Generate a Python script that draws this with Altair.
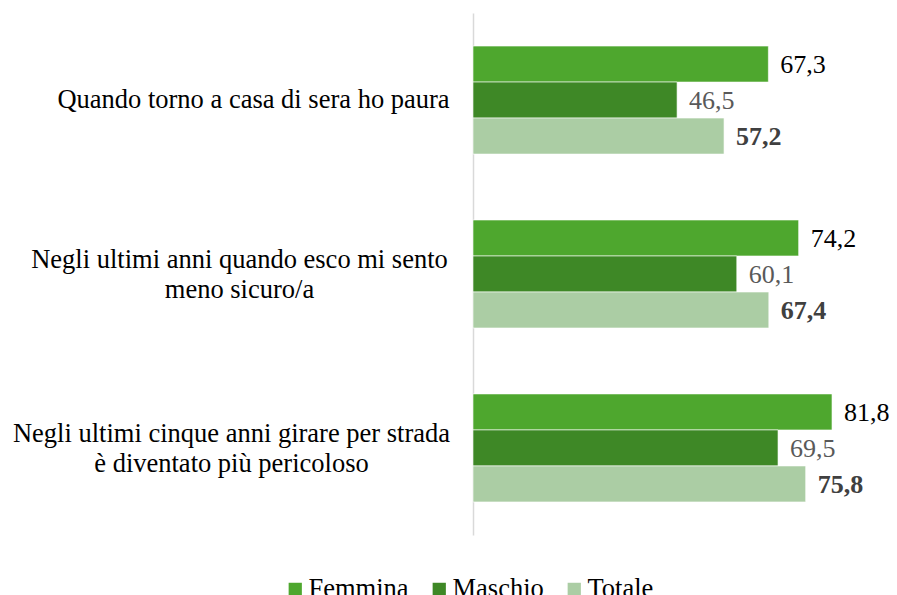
import altair as alt
import pandas as pd

categories = [
    "Quando torno a casa di sera ho paura",
    "Negli ultimi anni quando esco mi sento meno sicuro/a",
    "Negli ultimi cinque anni girare per strada è diventato più pericoloso",
]
category_lines = [
    ["Quando torno a casa di sera ho paura"],
    ["Negli ultimi anni quando esco mi sento", "meno sicuro/a"],
    ["Negli ultimi cinque anni girare per strada", "è diventato più pericoloso"],
]
series = ["Femmina", "Maschio", "Totale"]
femmina = [67.3, 74.2, 81.8]
maschio = [46.5, 60.1, 69.5]
totale = [57.2, 67.4, 75.8]
colors = ["#4EA72E", "#3E8826", "#ABCDA4"]

rows = []
for i, cat in enumerate(categories):
    for s, vals in zip(series, [femmina, maschio, totale]):
        rows.append({
            "categoria": cat,
            "serie": s,
            "valore": vals[i],
            "etichetta": f"{vals[i]:.1f}".replace(".", ","),
        })
df = pd.DataFrame(rows)

label_expr = "{" + ", ".join(
    f"{repr(c)}: {repr(lines)}" for c, lines in zip(categories, category_lines)
) + "}[datum.value]"

FONT = "Liberation Serif"

# horizontal centre of each (wrapped) category label, measured from the axis line
label_pad = [220, 234, 242]

y_enc = alt.Y(
    "categoria:N",
    sort=categories,
    title=None,
    scale=alt.Scale(paddingInner=0.379, paddingOuter=0.19),
    axis=alt.Axis(
        labelExpr=label_expr,
        labelAlign="center",
        labelPadding={
            "condition": [
                {"test": f"datum.value === {repr(categories[0])}", "value": label_pad[0]},
                {"test": f"datum.value === {repr(categories[1])}", "value": label_pad[1]},
            ],
            "value": label_pad[2],
        },
        labelOffset={
            "condition": {"test": f"datum.value === {repr(categories[0])}", "value": 0},
            "value": -14,
        },
        ticks=False,
        tickSize=0,
        labelFont=FONT,
        labelFontSize=26.5,
        labelColor="#000000",
        labelLineHeight=30,
        labelLimit=0,
        domainColor="#D9D9D9",
        domainWidth=1.5,
        grid=False,
    ),
)
yoff = alt.YOffset("serie:N", sort=series, scale=alt.Scale(paddingInner=0, paddingOuter=0))
x_enc = alt.X("valore:Q", scale=alt.Scale(domain=[0, 90], nice=False, zero=True), axis=None)

base = alt.Chart(df)

bars = base.mark_bar(stroke="white", strokeWidth=0.6).encode(
    y=y_enc,
    yOffset=yoff,
    x=x_enc,
    color=alt.Color(
        "serie:N",
        sort=series,
        scale=alt.Scale(domain=series, range=colors),
        legend=alt.Legend(
            title=None,
            orient="none",
            direction="horizontal",
            legendX=-191,
            legendY=563,
            padding=0,
            symbolType="square",
            symbolSize=175,
            symbolStrokeWidth=0,
            labelFont=FONT,
            labelFontSize=26.5,
            labelColor="#000000",
            labelOffset=0,
            columnPadding=17,
            labelLimit=0,
        ),
    ),
)

def value_text(s, color, weight):
    return base.transform_filter(alt.datum.serie == s).mark_text(
        align="left", baseline="middle", dx=12, dy=1,
        font=FONT, fontSize=26, color=color, fontWeight=weight,
    ).encode(
        y=alt.Y("categoria:N", sort=categories),
        yOffset=yoff,
        x=alt.X("valore:Q"),
        text="etichetta:N",
    )

chart = alt.layer(
    bars,
    value_text("Femmina", "#000000", "normal"),
    value_text("Maschio", "#595959", "normal"),
    value_text("Totale", "#404040", "bold"),
).properties(
    width=395,
    height=522,
    autosize=alt.AutoSizeParams(type="none"),
    padding={"left": 465, "top": 5, "right": 21, "bottom": 60},
).configure(font=FONT).configure_view(stroke=None)

chart.save("out.html", embed_options={"renderer": "svg", "actions": False})
